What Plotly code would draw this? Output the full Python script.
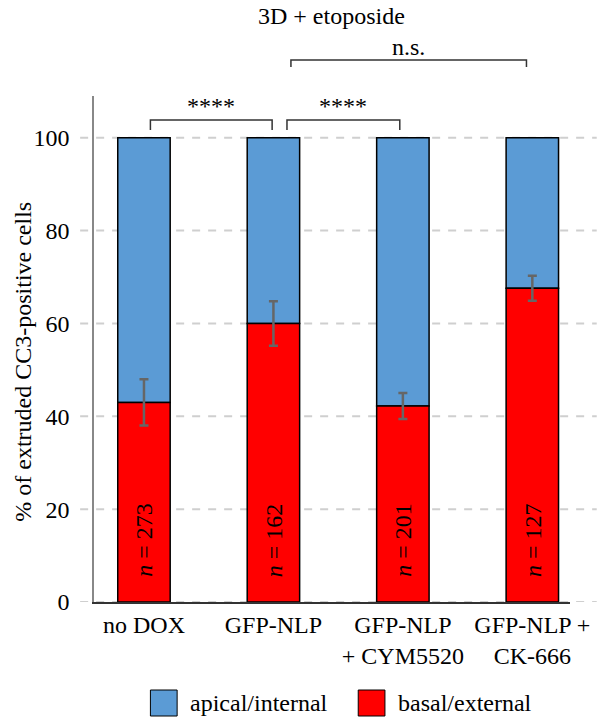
import plotly.graph_objects as go

categories = ["no DOX", "GFP-NLP", "GFP-NLP<br>+ CYM5520", "GFP-NLP +<br>CK-666"]
basal = [43.0, 60.0, 42.2, 67.6]
basal_err = [5.0, 4.8, 2.8, 2.7]
apical = [100 - v for v in basal]
n_counts = [273, 162, 201, 127]
y_ticks = [0, 20, 40, 60, 80, 100]

BLUE = "#5B9BD5"
RED = "#FF0000"
FONT = "Liberation Serif"
FS = 24

xs = list(range(len(categories)))

# plot area geometry (pixels) used to convert to paper coords for decorations
L, R, T, B = 94, 575, 96, 602
W, H = 602, 718
def px(x):
    return (x - L) / (R - L)
def py(y):
    return (B - y) / (B - T)

fig = go.Figure()
fig.add_trace(go.Bar(
    x=xs, y=apical, base=basal, width=0.405,
    marker=dict(color=BLUE, line=dict(color="black", width=1.5)),
    name="apical/internal", showlegend=False,
))
fig.add_trace(go.Bar(
    x=xs, y=basal, width=0.405,
    marker=dict(color=RED, line=dict(color="black", width=1.5)),
    error_y=dict(type="data", array=basal_err, color="#666666", thickness=2.5, width=4.5),
    name="basal/external", showlegend=False,
))

shapes = []
# dashed gridlines extending beyond plot area
for t in y_ticks:
    shapes.append(dict(type="line", xref="paper", yref="y", x0=px(80), x1=px(602), y0=t, y1=t,
                       line=dict(color="#CFCFCF", width=2, dash="8px,8px"), layer="below"))

# significance brackets
def bracket(x0, x1, yh, ye):
    shapes.append(dict(type="path", xref="paper", yref="paper",
                       path=f"M {px(x0)} {py(ye)} L {px(x0)} {py(yh)} L {px(x1)} {py(yh)} L {px(x1)} {py(ye)}",
                       line=dict(color="#333333", width=1.5)))
bracket(151, 274, 120, 130)
bracket(289, 403, 120, 130)
bracket(293, 531, 60, 67)

# legend squares
shapes.append(dict(type="rect", xref="paper", yref="paper", x0=px(151), x1=px(178), y0=py(690), y1=py(716),
                   fillcolor=BLUE, line=dict(color="black", width=1)))
shapes.append(dict(type="rect", xref="paper", yref="paper", x0=px(361), x1=px(388), y0=py(690), y1=py(716),
                   fillcolor=RED, line=dict(color="black", width=1)))

def txt(x, y, text, xanchor="center", angle=0):
    return dict(x=px(x), y=py(y), xref="paper", yref="paper", text=text, showarrow=False,
                xanchor=xanchor, yanchor="middle", textangle=angle,
                font=dict(family=FONT, size=FS, color="black"))

annotations = []
for i, n in enumerate(n_counts):
    annotations.append(dict(x=i, y=13.4, xref="x", yref="y", text=f"<i>n</i> = {n}", textangle=-90,
                            xanchor="center", yanchor="middle",
                            showarrow=False, font=dict(family=FONT, size=FS, color="black")))
annotations += [
    txt(334, 16, "3D + etoposide"),
    txt(412, 47, "n.s."),
    txt(212.5, 106, "****"),
    txt(346, 106, "****"),
    txt(22, 362, "% of extruded CC3-positive cells", angle=-90),
    txt(189, 703, "apical/internal", xanchor="left"),
    txt(399, 703, "basal/external", xanchor="left"),
]

fig.update_layout(
    width=W, height=H,
    margin=dict(l=L, r=W - R, t=T, b=H - B, pad=0),
    paper_bgcolor="white", plot_bgcolor="white",
    barmode="overlay",
    showlegend=False,
    shapes=shapes, annotations=annotations,
    font=dict(family=FONT, size=FS, color="black"),
    xaxis=dict(range=[-0.386, 3.291], tickmode="array", tickvals=xs, ticktext=categories,
               showgrid=False, zeroline=False, showline=True, linecolor="#333333", linewidth=2,
               ticks="", tickfont=dict(family=FONT, size=FS, color="black")),
    yaxis=dict(range=[0, 109], tickmode="array", tickvals=y_ticks, showgrid=False, zeroline=False,
               showline=True, linecolor="#888888", linewidth=1.5,
               ticks="outside", ticklen=18, tickcolor="rgba(0,0,0,0)",
               tickfont=dict(family=FONT, size=FS, color="black")),
)

fig.write_html("out.html", config={"displayModeBar": False},
               post_script="document.body.style.margin='0';")
